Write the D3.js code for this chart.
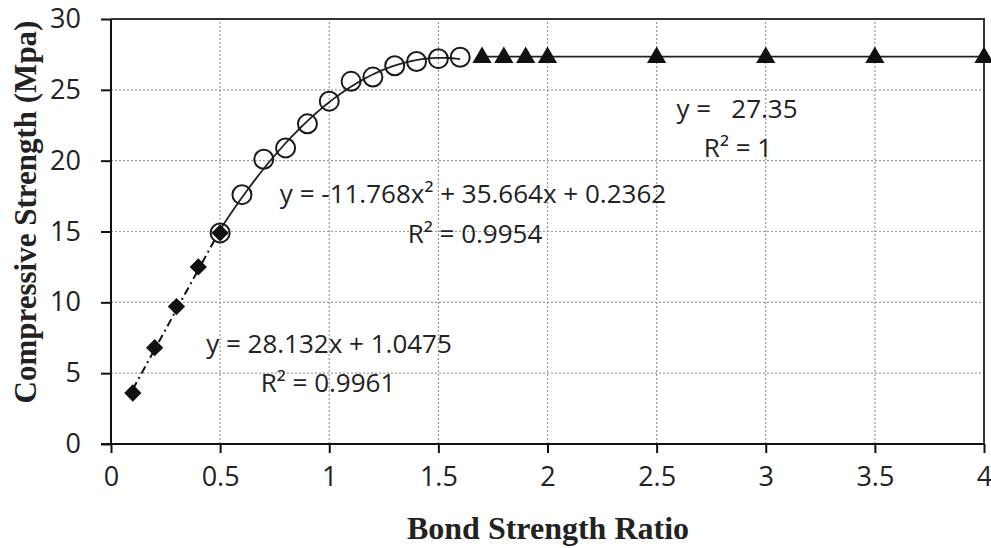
<!DOCTYPE html>
<html>
<head>
<meta charset="utf-8">
<script src="https://cdn.jsdelivr.net/npm/d3@7/dist/d3.min.js"></script>
<style>
  html, body { margin: 0; padding: 0; background: #fff; }
  svg { display: block; }
  .tick text { font-family: "Open Sans", sans-serif; font-size: 27px; fill: #222; }
</style>
</head>
<body>
<svg id="chart" width="991" height="548"></svg>
<script>
// Bond strength ratio (x) vs compressive strength (y), three regimes
const linearX = [0.1, 0.2, 0.3, 0.4, 0.5];
const linearY = [3.6, 6.8, 9.7, 12.5, 14.9];

const curveX = [0.5, 0.6, 0.7, 0.8, 0.9, 1.0, 1.1, 1.2, 1.3, 1.4, 1.5, 1.6];
const curveY = [14.9, 17.6, 20.1, 20.9, 22.6, 24.2, 25.6, 25.9, 26.7, 27.0, 27.2, 27.3];

const flatX = [1.7, 1.8, 1.9, 2.0, 2.5, 3.0, 3.5, 4.0];
const flatY = [27.35, 27.35, 27.35, 27.35, 27.35, 27.35, 27.35, 27.35];

// Trendline coefficients (highest power first)
const linearFit = [28.132, 1.0475];
const quadFit = [-11.768, 35.664, 0.2362];
const flatFit = [27.35];

const xTicks = [0, 0.5, 1, 1.5, 2, 2.5, 3, 3.5, 4];
const yTicks = [0, 5, 10, 15, 20, 25, 30];
const xTickLabels = ["0", "0.5", "1", "1.5", "2", "2.5", "3", "3.5", "4"];

const svg = d3.select("#chart");
const x = d3.scaleLinear().domain([0, 4]).range([111, 984]);
const y = d3.scaleLinear().domain([0, 30]).range([444, 19]);

const poly = c => v => c.reduce((acc, k) => acc * v + k, 0);

// grid
const grid = svg.append("g").attr("stroke", "#9a9a9a").attr("stroke-width", 1.2)
  .attr("stroke-dasharray", "2,2");
grid.selectAll("line.h").data(yTicks.filter(t => t > 0 && t < 30)).join("line")
  .attr("x1", x(0)).attr("x2", x(4)).attr("y1", d => y(d)).attr("y2", d => y(d));
grid.selectAll("line.v").data(xTicks.filter(t => t > 0 && t < 4)).join("line")
  .attr("y1", y(0)).attr("y2", y(30)).attr("x1", d => x(d)).attr("x2", d => x(d));

// frame (top and right)
svg.append("path")
  .attr("d", `M${x(0)},${y(30)}H${x(4)}V${y(0)}`)
  .attr("fill", "none").attr("stroke", "#333").attr("stroke-width", 2);

// axes
const yAxis = svg.append("g").attr("transform", `translate(${x(0)},0)`)
  .call(d3.axisLeft(y).tickValues(yTicks).tickSize(10).tickPadding(20).tickFormat(d3.format("d")));
const xAxis = svg.append("g").attr("transform", `translate(0,${y(0)})`)
  .call(d3.axisBottom(x).tickValues(xTicks).tickSize(9).tickPadding(14)
    .tickFormat((d, i) => xTickLabels[i]));
[yAxis, xAxis].forEach(a => {
  a.select(".domain").attr("stroke", "#111").attr("stroke-width", 2);
  a.selectAll(".tick line").attr("stroke", "#111").attr("stroke-width", 2);
});
yAxis.select(".domain").attr("d", `M0,${y(30)}V${y(0)}`);
xAxis.select(".domain").attr("d", `M${x(0) - 10},0H${x(4)}`);

// trendlines
const line = d3.line().x(d => x(d[0])).y(d => y(d[1]));
const sample = (f, a, b, n) => d3.range(n + 1).map(i => { const v = a + (b - a) * i / n; return [v, f(v)]; });

svg.append("path").attr("d", line(sample(poly(linearFit), linearX[0], linearX[linearX.length - 1], 2)))
  .attr("fill", "none").attr("stroke", "#111").attr("stroke-width", 2)
  .attr("stroke-dasharray", "8,4,2,4");
svg.append("path").attr("d", line(sample(poly(quadFit), curveX[0], curveX[curveX.length - 1], 60)))
  .attr("fill", "none").attr("stroke", "#222").attr("stroke-width", 1.8);
svg.append("path").attr("d", line(sample(poly(flatFit), flatX[0], flatX[flatX.length - 1], 1)))
  .attr("fill", "none").attr("stroke", "#222").attr("stroke-width", 1.8);

// markers
svg.append("g").selectAll("circle").data(curveX.map((v, i) => [v, curveY[i]])).join("circle")
  .attr("cx", d => x(d[0])).attr("cy", d => y(d[1])).attr("r", 9.5)
  .attr("fill", "none").attr("stroke", "#1a1a1a").attr("stroke-width", 2);

const diamond = d3.symbol().type(d3.symbolDiamond2).size(190);
svg.append("g").selectAll("path").data(linearX.map((v, i) => [v, linearY[i]])).join("path")
  .attr("d", diamond).attr("transform", d => `translate(${x(d[0])},${y(d[1])})`)
  .attr("fill", "#111");

const tri = d3.symbol().type(d3.symbolTriangle).size(160);
svg.append("g").selectAll("path").data(flatX.map((v, i) => [v, flatY[i]])).join("path")
  .attr("d", tri).attr("transform", d => `translate(${x(d[0])},${y(d[1]) + 1})`)
  .attr("fill", "#111");

// equation labels
const eq = svg.append("g").attr("font-family", "'Open Sans', sans-serif")
  .attr("font-size", 26).attr("fill", "#222").attr("text-anchor", "middle");
eq.append("text").attr("x", 473).attr("y", 203).text("y = -11.768x² + 35.664x + 0.2362");
eq.append("text").attr("x", 475).attr("y", 243).text("R² = 0.9954");
eq.append("text").attr("x", 329).attr("y", 353).text("y = 28.132x + 1.0475");
eq.append("text").attr("x", 328).attr("y", 392).text("R² = 0.9961");
eq.append("text").attr("x", 737).attr("y", 118).text("y =\u00A0\u00A0\u00A027.35");
eq.append("text").attr("x", 738).attr("y", 157).text("R² = 1");

// axis titles
svg.append("text").attr("x", 548).attr("y", 539).attr("text-anchor", "middle")
  .attr("font-family", "'Liberation Serif', 'Times New Roman', serif")
  .attr("font-weight", "bold").attr("font-size", 32).attr("fill", "#222")
  .text("Bond Strength Ratio");
svg.append("text").attr("transform", "translate(36,212) rotate(-90)").attr("text-anchor", "middle")
  .attr("font-family", "'Liberation Serif', 'Times New Roman', serif")
  .attr("font-weight", "bold").attr("font-size", 31).attr("fill", "#222")
  .text("Compressive Strength (Mpa)");
</script>
</body>
</html>
